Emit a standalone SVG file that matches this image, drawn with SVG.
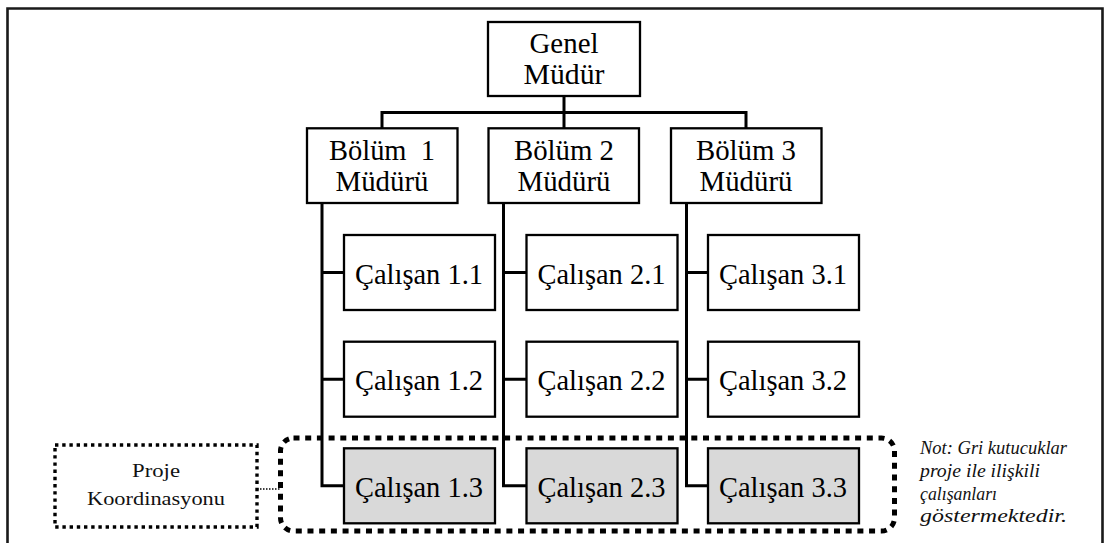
<svg xmlns="http://www.w3.org/2000/svg" width="1105" height="543" viewBox="0 0 1105 543">
  <style>
    .box { fill: #ffffff; stroke: #000000; stroke-width: 2.3; }
    .grey { fill: #d9d9d9; stroke: #000000; stroke-width: 2.3; }
    .lbl { font-family: "Liberation Serif", "Times New Roman", serif; font-size: 30px; fill: #000000; text-anchor: middle; }
    .small { font-family: "Liberation Serif", "Times New Roman", serif; font-size: 19.5px; fill: #111111; text-anchor: middle; }
    .note { font-family: "Liberation Serif", "Times New Roman", serif; font-style: italic; font-size: 19px; fill: #111111; }
    .link { fill: none; stroke: #000000; stroke-width: 3; }
  </style>

  <rect width="1105" height="543" fill="#ffffff"/>

  <!-- page frame, open at the bottom -->
  <path d="M7.5,545 V8.5 H1102.5 V545" fill="none" stroke="#1a1a1a" stroke-width="2.6"/>

  <!-- connectors -->
  <g id="connectors" class="link">
    <path d="M564,96 V112.5"/>
    <path d="M382,128 V112.5 H746 V128"/>
    <path d="M564,112.5 V128"/>
    <path d="M322,203 V485.8 H344"/>
    <path d="M322,272.5 H344 M322,379.2 H344"/>
    <path d="M503.5,203 V485.8 H526.5"/>
    <path d="M503.5,272.5 H526.5 M503.5,379.2 H526.5"/>
    <path d="M686.5,203 V485.8 H708"/>
    <path d="M686.5,272.5 H708 M686.5,379.2 H708"/>
    <path d="M257,489 H280" stroke-width="1.5" stroke-dasharray="1.5 1.5"/>
  </g>

  <g id="genel-mudur">
    <rect class="box" x="488" y="22" width="152" height="74"/>
    <text class="lbl" x="564" y="53" textLength="69" lengthAdjust="spacingAndGlyphs">Genel</text>
    <text class="lbl" x="564" y="84" textLength="81" lengthAdjust="spacingAndGlyphs">Müdür</text>
  </g>

  <g id="bolum-1">
    <rect class="box" x="307" y="128.3" width="150.5" height="74.7"/>
    <text class="lbl" x="382" y="160" xml:space="preserve" textLength="106" lengthAdjust="spacingAndGlyphs">Bölüm  1</text>
    <text class="lbl" x="382" y="191" textLength="93" lengthAdjust="spacingAndGlyphs">Müdürü</text>
  </g>
  <g id="bolum-2">
    <rect class="box" x="488.5" y="128.3" width="150.5" height="74.7"/>
    <text class="lbl" x="564" y="160" textLength="100" lengthAdjust="spacingAndGlyphs">Bölüm 2</text>
    <text class="lbl" x="564" y="191" textLength="93" lengthAdjust="spacingAndGlyphs">Müdürü</text>
  </g>
  <g id="bolum-3">
    <rect class="box" x="671" y="128.3" width="150.5" height="74.7"/>
    <text class="lbl" x="746" y="160" textLength="100" lengthAdjust="spacingAndGlyphs">Bölüm 3</text>
    <text class="lbl" x="746" y="191" textLength="93" lengthAdjust="spacingAndGlyphs">Müdürü</text>
  </g>

  <!-- employees, column 1 -->
  <g id="calisan-1-1">
    <rect class="box" x="344" y="235" width="151" height="75"/>
    <text class="lbl" x="419" y="283.5" textLength="128" lengthAdjust="spacingAndGlyphs">Çalışan 1.1</text>
  </g>
  <g id="calisan-1-2">
    <rect class="box" x="344" y="341.7" width="151" height="75"/>
    <text class="lbl" x="419" y="390.2" textLength="128" lengthAdjust="spacingAndGlyphs">Çalışan 1.2</text>
  </g>
  <g id="calisan-1-3">
    <rect class="grey" x="344" y="448.3" width="151" height="75"/>
    <text class="lbl" x="419" y="496.8" textLength="128" lengthAdjust="spacingAndGlyphs">Çalışan 1.3</text>
  </g>

  <!-- employees, column 2 -->
  <g id="calisan-2-1">
    <rect class="box" x="526.5" y="235" width="151" height="75"/>
    <text class="lbl" x="601.5" y="283.5" textLength="128" lengthAdjust="spacingAndGlyphs">Çalışan 2.1</text>
  </g>
  <g id="calisan-2-2">
    <rect class="box" x="526.5" y="341.7" width="151" height="75"/>
    <text class="lbl" x="601.5" y="390.2" textLength="128" lengthAdjust="spacingAndGlyphs">Çalışan 2.2</text>
  </g>
  <g id="calisan-2-3">
    <rect class="grey" x="526.5" y="448.3" width="151" height="75"/>
    <text class="lbl" x="601.5" y="496.8" textLength="128" lengthAdjust="spacingAndGlyphs">Çalışan 2.3</text>
  </g>

  <!-- employees, column 3 -->
  <g id="calisan-3-1">
    <rect class="box" x="708" y="235" width="151" height="75"/>
    <text class="lbl" x="783" y="283.5" textLength="128" lengthAdjust="spacingAndGlyphs">Çalışan 3.1</text>
  </g>
  <g id="calisan-3-2">
    <rect class="box" x="708" y="341.7" width="151" height="75"/>
    <text class="lbl" x="783" y="390.2" textLength="128" lengthAdjust="spacingAndGlyphs">Çalışan 3.2</text>
  </g>
  <g id="calisan-3-3">
    <rect class="grey" x="708" y="448.3" width="151" height="75"/>
    <text class="lbl" x="783" y="496.8" textLength="128" lengthAdjust="spacingAndGlyphs">Çalışan 3.3</text>
  </g>

  <!-- project group outline -->
  <g id="proje-grubu">
    <rect x="280.5" y="438" width="614" height="93" rx="13" fill="none" stroke="#000000" stroke-width="5" stroke-dasharray="6 5.7"/>
  </g>

  <g id="proje-koordinasyonu">
    <rect x="55" y="445" width="202" height="82" fill="none" stroke="#000000" stroke-width="3.4" stroke-dasharray="3.4 3.8"/>
    <text class="small" x="156" y="477" textLength="48" lengthAdjust="spacingAndGlyphs">Proje</text>
    <text class="small" x="156" y="505" textLength="138" lengthAdjust="spacingAndGlyphs">Koordinasyonu</text>
  </g>

  <g id="not">
    <text class="note" x="920" y="454" textLength="147" lengthAdjust="spacingAndGlyphs">Not: Gri kutucuklar</text>
    <text class="note" x="920" y="476.5" textLength="120" lengthAdjust="spacingAndGlyphs">proje ile ilişkili</text>
    <text class="note" x="920" y="499.5" textLength="77" lengthAdjust="spacingAndGlyphs">çalışanları</text>
    <text class="note" x="920" y="521.5" textLength="147" lengthAdjust="spacingAndGlyphs">göstermektedir.</text>
  </g>
</svg>
